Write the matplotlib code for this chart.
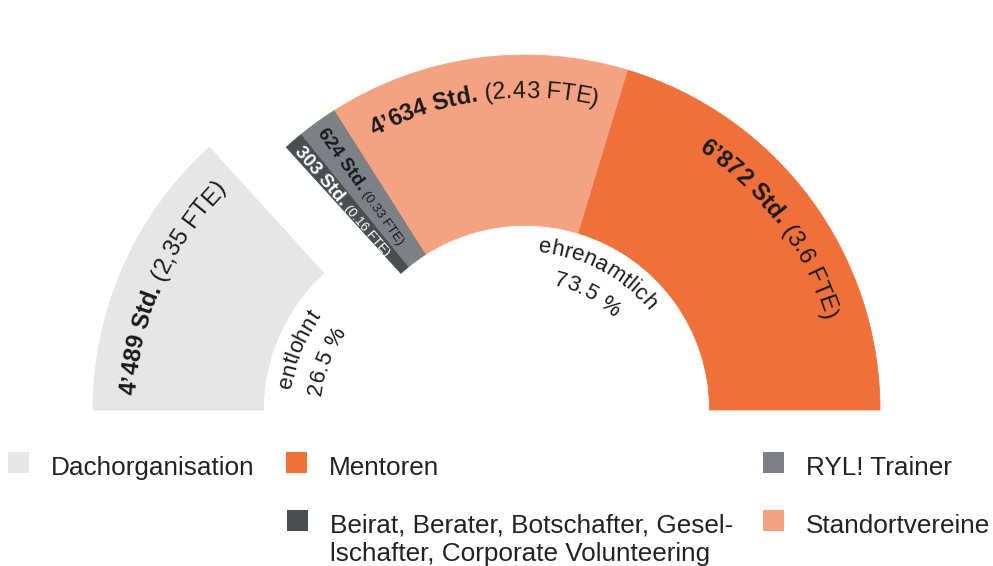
import numpy as np
import matplotlib.pyplot as plt
from matplotlib.patches import Wedge, Rectangle
from matplotlib.font_manager import FontProperties

categories = ['Dachorganisation',
              'Beirat, Berater, Botschafter, Gesel-\nlschafter, Corporate Volunteering',
              'RYL! Trainer', 'Standortvereine', 'Mentoren']
hours = [4489, 303, 624, 4634, 6872]
fte = ['2,35', '0.16', '0.33', '2.43', '3.6']
paid = [True, False, False, False, False]
colors = ['#e6e6e6', '#4b4e51', '#7d8085', '#f5a283', '#f0703b']
group_names = ['entlohnt', 'ehrenamtlich']

FONT = 'Liberation Sans'
W, H = 993, 566
S = 355.0            # pixels per data unit (outer radius)
cx, cy = 525, 410    # pixel position of the donut centre

fig = plt.figure(figsize=(W / 100, H / 100), dpi=100)
ax = fig.add_axes([0, 0, 1, 1])
ax.set_xlim(-cx / S, (W - cx) / S)
ax.set_ylim(-(H - cy) / S, cy / S)
ax.axis('off')

total = sum(hours)
cum = np.concatenate([[0], np.cumsum(hours)])
theta_hi = 180 - 180 * cum[:-1] / total
theta_lo = 180 - 180 * cum[1:] / total
shift = 77 / S   # the paid part is pulled out to the left
centers = [(-shift, 0) if p else (0, 0) for p in paid]

for i in range(len(hours)):
    ax.add_patch(Wedge(centers[i], 1.0, theta_lo[i], theta_hi[i], width=0.48,
                       facecolor=colors[i], edgecolor=colors[i], lw=0.6))

renderer = fig.canvas.get_renderer()


def text_width(s, fp):
    # advance width in px, measured between two bars so spaces count
    w = renderer.get_text_width_height_descent('I' + s + 'I', fp, ismath=False)[0]
    return w - renderer.get_text_width_height_descent('II', fp, ismath=False)[0]


def arc_text(parts, center, radius, mid, color):
    # text running clockwise along a circle, tops pointing outward
    r_px = radius * S
    glyphs = []
    for s, size, weight in parts:
        fp = FontProperties(family=FONT, size=size, weight=weight)
        glyphs += [(c, text_width(c, fp), fp) for c in s]
    a = mid + np.degrees(sum(g[1] for g in glyphs) / 2 / r_px)
    for c, w, fp in glyphs:
        t = a - np.degrees(w / 2 / r_px)
        x = center[0] + radius * np.cos(np.radians(t))
        y = center[1] + radius * np.sin(np.radians(t))
        ax.text(x, y, c, fontproperties=fp, color=color, rotation=t - 90,
                rotation_mode='anchor', ha='center', va='baseline')
        a -= np.degrees(w / r_px)


def ray_text(parts, center, radius, ang, color):
    # straight text reading from the outer edge inward
    fps = [FontProperties(family=FONT, size=size, weight=weight) for s, size, weight in parts]
    widths = [text_width(s, fp) for (s, _, _), fp in zip(parts, fps)]
    pos = radius * S + sum(widths) / 2
    u = np.array([np.cos(np.radians(ang)), np.sin(np.radians(ang))])
    down = np.array([-u[1], u[0]])
    off = 0.36 * parts[0][1] * 100 / 72 / S
    base = np.array(center) + down * off
    for (s, size, weight), fp, w in zip(parts, fps, widths):
        p = base + u * pos / S
        ax.text(p[0], p[1], s, fontproperties=fp, color=color, rotation=ang - 180,
                rotation_mode='anchor', ha='left', va='baseline')
        pos -= w


for i in range(len(hours)):
    mid = (theta_lo[i] + theta_hi[i]) / 2
    std = f'{hours[i]:,}'.replace(',', '\u2019') + ' Std.'
    if theta_hi[i] - theta_lo[i] < 10:
        col = 'white' if i == 1 else '#1a1a1a'
        ray_text([(std, 13.5, 'bold'), (f' ({fte[i]} FTE)', 9.5, 'normal')],
                 centers[i], 0.78, mid, col)
    else:
        arc_text([(std, 17, 'bold'), (f' ({fte[i]} FTE)', 17, 'normal')],
                 centers[i], 0.88, mid, '#1a1a1a')

# group labels in the hole
paid_share = sum(h for h, p in zip(hours, paid) if p) / total * 100
shares = [paid_share, 100 - paid_share]
group_centers = [(-shift, 0), (0, 0)]
group_angles = [158, 62]
for name, share, c, ang in zip(group_names, shares, group_centers, group_angles):
    arc_text([(name, 16, 'normal')], c, 0.445, ang, '#1a1a1a')
    arc_text([(f'{share:.1f} %', 16, 'normal')], c, 0.36, ang, '#1a1a1a')

# legend, laid out by hand in pixel positions
legend_pos = [(8, 452), (287, 510), (763, 452), (763, 510), (286, 452)]
line_h = 28
for name, col, (lx, ly) in zip(categories, colors, legend_pos):
    fig.patches.append(Rectangle((lx / W, 1 - (ly + 21) / H), 21 / W, 21 / H,
                                 transform=fig.transFigure, facecolor=col, edgecolor='none'))
    base = ly + 23 + line_h * name.count('\n')   # baseline of the last line
    fig.text((lx + 43) / W, 1 - base / H, name, fontsize=18.8, family=FONT,
             color='#222222', va='baseline', ha='left', linespacing=1.25)

fig.savefig('out.png', dpi=100, facecolor='white')
